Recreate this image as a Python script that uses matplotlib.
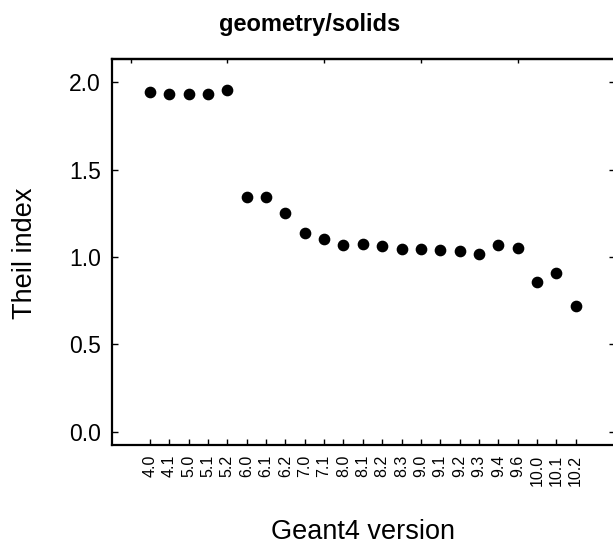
import matplotlib
matplotlib.use("Agg")
import matplotlib.pyplot as plt

plt.rcParams['font.family'] = ['Liberation Sans', 'DejaVu Sans']

versions = ["4.0", "4.1", "5.0", "5.1", "5.2", "6.0", "6.1", "6.2", "7.0", "7.1",
            "8.0", "8.1", "8.2", "8.3", "9.0", "9.1", "9.2", "9.3", "9.4", "9.6",
            "10.0", "10.1", "10.2"]
theil = [1.946, 1.935, 1.933, 1.935, 1.956, 1.343, 1.343, 1.255, 1.137, 1.102,
         1.070, 1.076, 1.064, 1.047, 1.047, 1.041, 1.036, 1.016, 1.070, 1.051,
         0.858, 0.911, 0.722]
yticks = [0.0, 0.5, 1.0, 1.5, 2.0]
ytick_labels = ["0.0", "0.5", "1.0", "1.5", "2.0"]

W, H = 613, 548
fig = plt.figure(figsize=(W / 100, H / 100), dpi=100)
left, right, top, bottom = 112, 615.5, 59, 445
ax = fig.add_axes([left / W, 1 - bottom / H, (right - left) / W, (bottom - top) / H])

xpos = list(range(1, len(versions) + 1))
ax.plot(xpos, theil, 'o', color='black', markersize=7.4, linestyle='none')

ax.set_xlim(-0.96, 1 + (right - 150) / 19.35)
ax.set_ylim(-0.076, 2.134)

for s in ax.spines.values():
    s.set_linewidth(1.6)

ax.set_xticks(xpos)
ax.set_xticklabels(versions, rotation=90, fontsize=11.5)
ax.set_yticks(yticks)
ax.set_yticklabels(ytick_labels, fontsize=16.5)
ax.tick_params(axis='x', direction='in', length=4, width=1, pad=7)
ax.tick_params(axis='y', direction='in', length=4, width=1, pad=8,
               right=True, labelright=False)

# top ticks (secondary, unlabeled)
sec = ax.secondary_xaxis('top')
sec.set_xticks([0, 5, 10, 15, 20, 25])
sec.set_xticklabels([])
sec.tick_params(direction='in', length=3, width=1)
sec.spines['top'].set_linewidth(1.6)

fig.text(310 / W, 1 - 24 / H, "geometry/solids", ha='center', va='center',
         fontsize=17, fontweight='bold')
fig.text(363 / W, 1 - 532 / H, "Geant4 version", ha='center', va='center',
         fontsize=19.5)
fig.text(25 / W, 1 - 253 / H, "Theil index", ha='center', va='center',
         fontsize=19.5, rotation=90)

fig.savefig("out.png", dpi=100)
